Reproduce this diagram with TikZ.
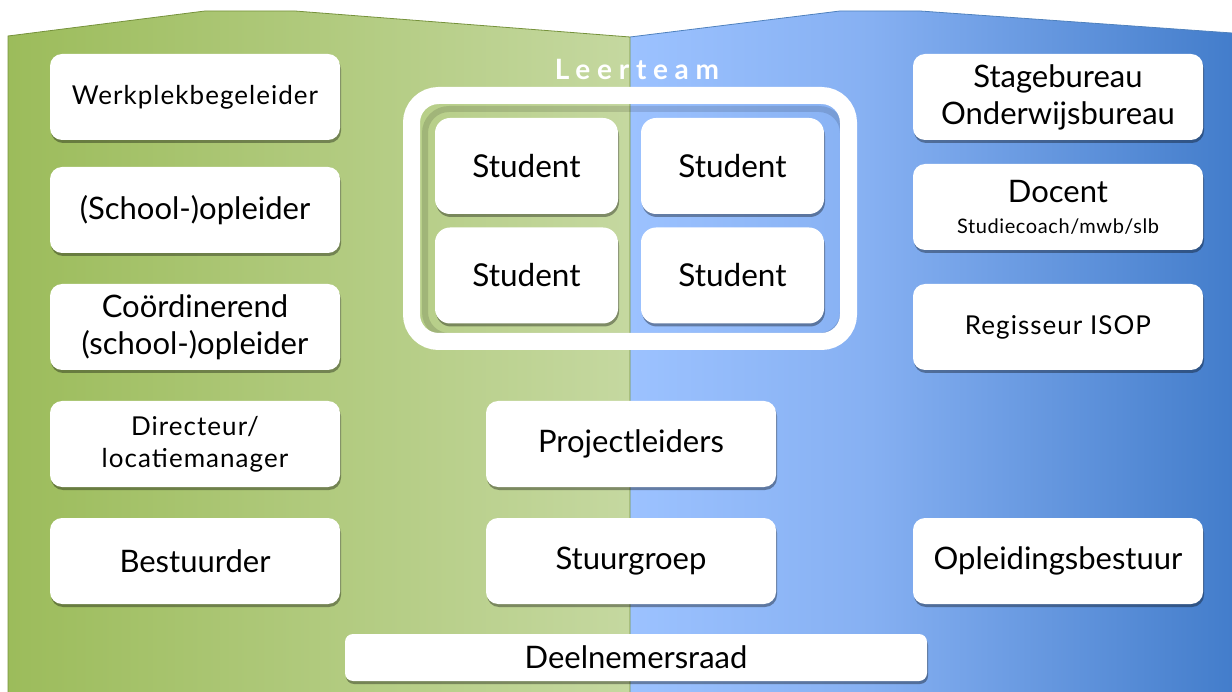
\documentclass[tikz,border=0pt]{standalone}
\usepackage{fontspec}
\setmainfont{Lato}
\usetikzlibrary{shadows}
\definecolor{gA}{RGB}{156,188,91}
\definecolor{gB}{RGB}{197,216,160}
\definecolor{gLine}{RGB}{118,146,60}
\definecolor{bA}{RGB}{156,194,255}
\definecolor{bB}{RGB}{134,176,242}
\definecolor{bC}{RGB}{67,125,203}
\definecolor{bLine}{RGB}{79,129,189}
\pgfdeclarehorizontalshading{greenshade}{100bp}{color(0bp)=(gA); color(25bp)=(gA); color(75bp)=(gB); color(100bp)=(gB)}
\pgfdeclarehorizontalshading{blueshade}{100bp}{color(0bp)=(bA); color(25bp)=(bA); color(45bp)=(bB); color(75bp)=(bC); color(100bp)=(bC)}
\tikzset{
  box/.style={fill=white, rounded corners=12pt, inner sep=0pt, align=center,
    minimum width=290pt, minimum height=86pt, font=\fontsize{31}{37}\selectfont,
    drop shadow={shadow xshift=1pt, shadow yshift=-3pt, opacity=.35, fill=black}},
  stud/.style={box, minimum width=183pt, minimum height=96pt, rounded corners=15pt,
    font=\fontsize{31.5}{37}\selectfont},
  small/.style={font=\fontsize{26}{32}\selectfont\addfontfeature{LetterSpace=4}}
}
\begin{document}
\begin{tikzpicture}[x=1pt,y=-1pt]
\useasboundingbox (0,0) rectangle (1232,692);
% backgrounds
\shade[shading=greenshade] (8,36) -- (205,11) -- (295,11) -- (630,37) -- (630,692) -- (8,692) -- cycle;
\shade[shading=blueshade] (630,37) -- (840,11) -- (920,11) -- (1232,33) -- (1232,692) -- (630,692) -- cycle;
\draw[gLine, line width=0.8pt] (8,692) -- (8,36) -- (205,11) -- (295,11) -- (630,37) -- (630,692);
\draw[bLine, line width=0.8pt] (630,37) -- (840,11) -- (920,11) -- (1232,33);
% leerteam
\node[text=white, font=\fontsize{28}{32}\selectfont\bfseries\addfontfeature{LetterSpace=24}] (lt) at (637,69) {Leerteam};
\draw[black, opacity=.12, line width=6pt, rounded corners=24pt] (425,109) rectangle (843,336);
\draw[white, line width=17pt, rounded corners=27pt] (411.5,95.5) rectangle (848.5,341.5);
\node[stud] (s1) at (526.5,166) {Student};
\node[stud] (s2) at (732.5,166) {Student};
\node[stud] (s3) at (526.5,275.5) {Student};
\node[stud] (s4) at (732.5,275.5) {Student};
% left column
\node[box, small] (l1) at (195,97) {Werkplekbegeleider};
\node[box] (l2) at (195,210) {(School-)opleider};
\node[box] (l3) at (195,327) {Coördinerend\\(school-)opleider};
\node[box, small] (l4) at (195,444) {Directeur/\\locatiemanager};
\node[box] (l5) at (195,561) {Bestuurder};
% right column
\node[box] (r1) at (1058,97) {Stagebureau\\Onderwijsbureau};
\node[box] (r2) at (1058,207) {Docent\\[-6pt]{\fontsize{20}{24}\selectfont\addfontfeature{LetterSpace=3}Studiecoach/mwb/slb}};
\node[box, small] (r3) at (1058,327) {Regisseur ISOP};
\node[box] (r4) at (1058,561) {Opleidingsbestuur};
% middle
\node[box] (m1) at (631,444) {Projectleiders};
\node[box] (m2) at (631,561) {Stuurgroep};
\node[box, minimum width=582pt, minimum height=47pt, rounded corners=8pt] (d) at (636,657.5) {Deelnemersraad};
\end{tikzpicture}
\end{document}
